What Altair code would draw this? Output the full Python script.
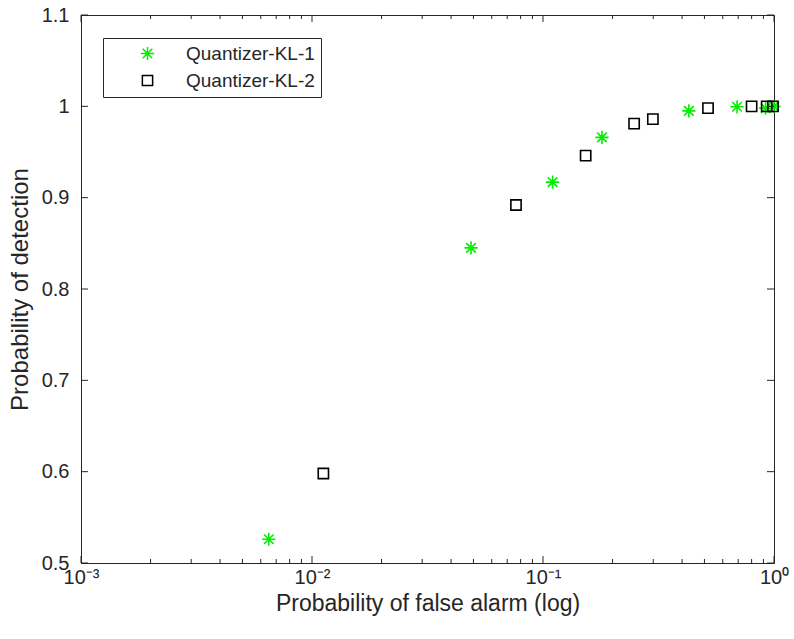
import altair as alt
import pandas as pd

series_names = ["Quantizer-KL-1", "Quantizer-KL-2"]
kl1_pfa = [0.0065, 0.0488, 0.110, 0.180, 0.428, 0.692, 0.92, 1.0]
kl1_pd = [0.526, 0.845, 0.917, 0.966, 0.995, 0.9995, 0.998, 1.0]
kl2_pfa = [0.0112, 0.0764, 0.153, 0.248, 0.299, 0.518, 0.80, 0.93, 0.99]
kl2_pd = [0.598, 0.892, 0.946, 0.981, 0.986, 0.998, 1.0, 1.0, 1.0]

x_major = [0.001, 0.01, 0.1, 1.0]
x_tick_labels = ["10⁻³", "10⁻²", "10⁻¹", "10⁰"]
x_minor = [m * d for d in [0.001, 0.01, 0.1] for m in range(2, 10)]
y_major = [0.5, 0.6, 0.7, 0.8, 0.9, 1.0, 1.1]

W, H = 693, 548
INK = "#262626"
FONT = "Liberation Sans"

rows = []
for x, y in zip(kl1_pfa, kl1_pd):
    rows.append({"pfa": x, "pd": y, "series": series_names[0]})
for x, y in zip(kl2_pfa, kl2_pd):
    rows.append({"pfa": x, "pd": y, "series": series_names[1]})
df = pd.DataFrame(rows)

xscale = alt.Scale(type="log", domain=[0.001, 1.0])
yscale = alt.Scale(domain=[0.5, 1.1])

label_expr = " : ".join(
    f"datum.value < {v * 1.5} ? '{t}'" for v, t in zip(x_major[:-1], x_tick_labels[:-1])
) + f" : '{x_tick_labels[-1]}'"

x_axis = alt.Axis(
    values=x_major, labelExpr=label_expr, ticks=False, grid=False,
    domainColor=INK, labelFont=FONT, labelFontSize=20, labelColor=INK,
    labelPadding=4, labelFlush=False,
    title="Probability of false alarm (log)", titleFont=FONT, titleFontSize=23,
    titleFontWeight="normal", titleColor=INK, titleY=40, titleBaseline="middle")
y_axis = alt.Axis(
    values=y_major, format=".1~f", ticks=False, grid=False,
    domainColor=INK, labelFont=FONT, labelFontSize=20, labelColor=INK,
    labelPadding=12, labelFlush=False,
    title="Probability of detection", titleFont=FONT, titleFontSize=24,
    titleFontWeight="normal", titleColor=INK, titleX=-61, titleY=H / 2,
    titleAngle=-90, titleAlign="center", titleBaseline="middle")

star = "M-1,0L1,0M0,-1L0,1M-0.72,-0.72L0.72,0.72M-0.72,0.72L0.72,-0.72"

legend = alt.Legend(
    title=None, orient="none", legendX=22, legendY=23, direction="vertical",
    strokeColor=INK, fillColor="white", padding=6, symbolOffset=29,
    labelOffset=29, labelFont=FONT, labelFontSize=19, labelColor=INK,
    symbolStrokeWidth=1.5, rowPadding=7, cornerRadius=0,
)

points = alt.Chart(df).mark_point(filled=False, strokeWidth=1.6, opacity=1).encode(
    x=alt.X("pfa:Q", scale=xscale, axis=x_axis),
    y=alt.Y("pd:Q", scale=yscale, axis=y_axis),
    shape=alt.Shape("series:N", scale=alt.Scale(domain=series_names, range=[star, "square"]), legend=legend),
    color=alt.Color("series:N", scale=alt.Scale(domain=series_names, range=["#00ee00", "#000000"]), legend=legend),
    size=alt.Size("series:N", scale=alt.Scale(domain=series_names, range=[175, 105]), legend=legend),
)

tick_color = INK
xmaj = pd.DataFrame({"v": x_major})
xmin = pd.DataFrame({"v": x_minor})
ymaj = pd.DataFrame({"v": y_major})

def xticks(data, length, top):
    y0 = 0 if top else H
    y1 = length if top else H - length
    return alt.Chart(data).mark_rule(color=tick_color, strokeWidth=1).encode(
        x=alt.X("v:Q", scale=xscale, axis=x_axis), y=alt.value(y0), y2=alt.value(y1))

def yticks(data, length, right):
    x0 = W if right else 0
    x1 = W - length if right else length
    return alt.Chart(data).mark_rule(color=tick_color, strokeWidth=1).encode(
        y=alt.Y("v:Q", scale=yscale, axis=y_axis), x=alt.value(x0), x2=alt.value(x1))

chart = alt.layer(
    points,
    xticks(xmaj, 7, False), xticks(xmaj, 7, True),
    xticks(xmin, 4, False), xticks(xmin, 4, True),
    yticks(ymaj, 7, False), yticks(ymaj, 7, True),
).properties(
    width=W, height=H,
    autosize=alt.AutoSizeParams(type="none"),
    padding={"left": 81, "top": 15, "right": 20, "bottom": 76},
    background="white",
).configure_view(stroke=INK, strokeWidth=1)

chart.save("out.html", embed_options={"renderer": "svg", "actions": False})
